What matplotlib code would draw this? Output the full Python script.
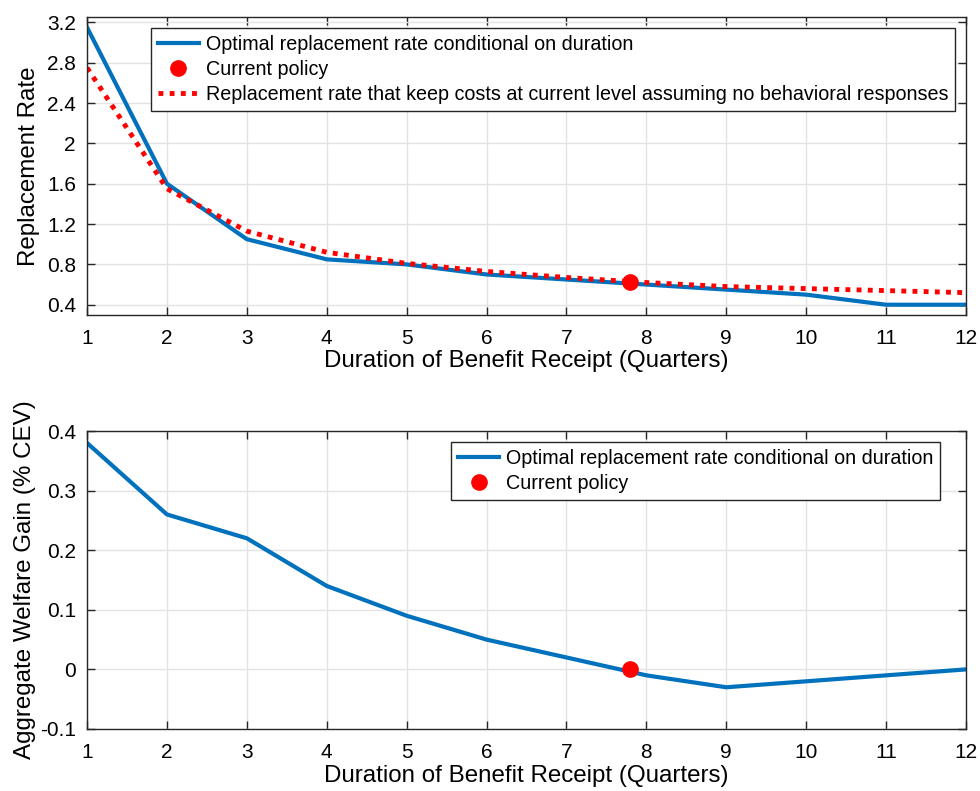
import matplotlib
matplotlib.use("Agg")
import matplotlib.pyplot as plt

plt.rcParams['font.family'] = ['Liberation Sans', 'DejaVu Sans']

duration = [1, 2, 3, 4, 5, 6, 7, 8, 9, 10, 11, 12]
optimal_rate = [3.15, 1.60, 1.05, 0.85, 0.80, 0.70, 0.65, 0.60, 0.55, 0.50, 0.40, 0.40]
cost_neutral_rate = [2.75, 1.55, 1.13, 0.92, 0.81, 0.73, 0.67, 0.62, 0.58, 0.56, 0.54, 0.52]
welfare_gain = [0.38, 0.26, 0.22, 0.14, 0.09, 0.05, 0.02, -0.01, -0.03, -0.02, -0.01, 0.0]
current_duration = [7.8]
current_rate = [0.63]
current_welfare = [0.0]

top_yticks = [0.4, 0.8, 1.2, 1.6, 2.0, 2.4, 2.8, 3.2]
top_yticklabels = ['0.4', '0.8', '1.2', '1.6', '2', '2.4', '2.8', '3.2']
bot_yticks = [-0.1, 0, 0.1, 0.2, 0.3, 0.4]
bot_yticklabels = ['-0.1', '0', '0.1', '0.2', '0.3', '0.4']

BLUE = '#0072BD'
FRAME = '#262626'

fig = plt.figure(figsize=(9.8, 7.91), dpi=100)
ax1 = fig.add_axes([0.0888, 0.602, 0.8969, 0.3765])
ax2 = fig.add_axes([0.0888, 0.0784, 0.8969, 0.3767])

def style(ax):
    ax.grid(True, color='#e3e3e3', linewidth=1.0)
    ax.set_axisbelow(True)
    for s in ax.spines.values():
        s.set_color(FRAME)
        s.set_linewidth(1.0)
    ax.tick_params(direction='in', length=6, width=1, color=FRAME,
                   labelsize=15, top=True, right=True)
    ax.tick_params(axis='x', pad=10)
    ax.tick_params(axis='y', pad=8)
    ax.set_xlim(1, 12)
    ax.set_xticks(duration)
    ax.set_xlabel('Duration of Benefit Receipt (Quarters)', fontsize=17.4, labelpad=2)

leg_kw = dict(fontsize=14.2, fancybox=False, framealpha=1, edgecolor=FRAME,
              handlelength=2.1, borderpad=0.35, labelspacing=0.3,
              handletextpad=0.35, borderaxespad=0)

ax1.plot(duration, optimal_rate, color=BLUE, lw=3,
         label='Optimal replacement rate conditional on duration')
ax1.plot(current_duration, current_rate, 'o', color='red', ms=11, ls='none',
         label='Current policy', zorder=5)
ax1.plot(duration, cost_neutral_rate, color='red', lw=3.5, ls=(0, (1, 1.3)),
         label='Replacement rate that keep costs at current level assuming no behavioral responses')
style(ax1)
ax1.set_ylim(0.3, 3.253)
ax1.set_yticks(top_yticks)
ax1.set_yticklabels(top_yticklabels)
ax1.set_ylabel('Replacement Rate', fontsize=17.4, labelpad=5)
leg1 = ax1.legend(loc='upper right', bbox_to_anchor=(0.988, 0.963), **leg_kw)
leg1.get_frame().set_linewidth(1.0)

ax2.plot(duration, welfare_gain, color=BLUE, lw=3,
         label='Optimal replacement rate conditional on duration')
ax2.plot(current_duration, current_welfare, 'o', color='red', ms=11, ls='none',
         label='Current policy', zorder=5)
style(ax2)
ax2.set_ylim(-0.1, 0.4)
ax2.set_yticks(bot_yticks)
ax2.set_yticklabels(bot_yticklabels)
ax2.set_ylabel('Aggregate Welfare Gain (% CEV)', fontsize=17.4, labelpad=3)
leg2 = ax2.legend(loc='upper right', bbox_to_anchor=(0.971, 0.963), **leg_kw)
leg2.get_frame().set_linewidth(1.0)

fig.savefig('out.png', dpi=100)
